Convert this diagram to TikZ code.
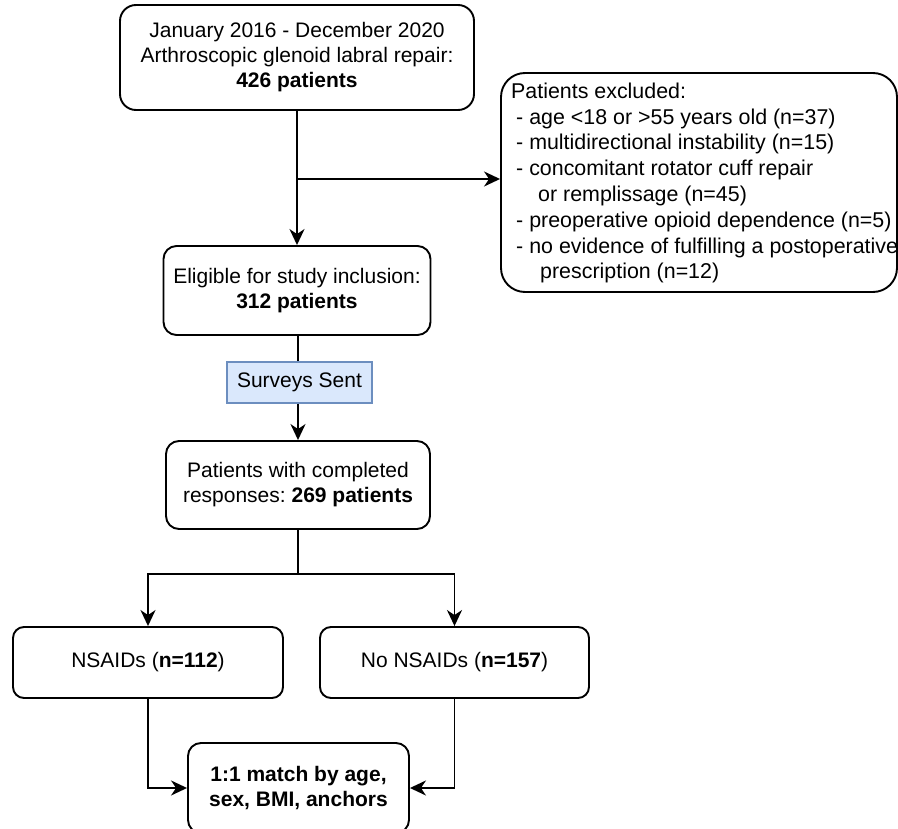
\documentclass[tikz,border=0pt]{standalone}
\usepackage{fontspec}
\setmainfont{Liberation Sans}
\usetikzlibrary{arrows.meta}
\definecolor{sfill}{HTML}{DAE8FC}
\definecolor{sdraw}{HTML}{6C8EBF}
\frenchspacing
\begin{document}
\begin{tikzpicture}[x=1pt,y=-1pt,
  font=\fontsize{21pt}{25pt}\selectfont\frenchspacing,
  box/.style={draw, line width=1.9pt, rounded corners=#1, inner sep=0pt, align=center},
  box/.default=14pt,
  line/.style={line width=1.9pt},
  arr/.style={line width=1.9pt, -{Stealth[length=16pt 0,width=15pt 0,inset=5pt 0]}}]
\path[use as bounding box, fill=white] (0,0) rectangle (898,829);

\node[box=16pt, minimum width=354pt, minimum height=105pt] (top) at (297,57.5)
  {January 2016 - December 2020\\Arthroscopic glenoid labral repair:\\\textbf{426 patients}};
\node[box=24pt, minimum width=396pt, minimum height=219pt] (excl) at (699,182.5) {};
\node[anchor=west, inner sep=0pt, align=left, font=\fontsize{21.4pt}{25.8pt}\selectfont\frenchspacing] (excltext) at (511,183)
  {Patients excluded:\\
   \hspace*{5pt}- age <18 or >55 years old (n=37)\\
   \hspace*{5pt}- multidirectional instability (n=15)\\
   \hspace*{5pt}- concomitant rotator cuff repair\\
   \hspace*{27pt}or remplissage (n=45)\\
   \hspace*{5pt}- preoperative opioid dependence (n=5)\\
   \hspace*{5pt}- no evidence of fulfilling a postoperative\\
   \hspace*{29pt}prescription (n=12)};
\node[box=13pt, minimum width=267pt, minimum height=89pt] (elig) at (297,290.5)
  {Eligible for study inclusion:\\\textbf{312 patients}};
\node[draw=sdraw, fill=sfill, line width=1.6pt, inner sep=0pt, minimum width=145pt, minimum height=41pt] (surv) at (299.5,382.5)
  {Surveys Sent};
\node[box=13pt, minimum width=264pt, minimum height=88pt] (resp) at (298,485)
  {Patients with completed\\responses: \textbf{269 patients}};
\node[box=11pt, minimum width=270pt, minimum height=71pt] (ns) at (148,662.5)
  {NSAIDs (\textbf{n=112})};
\node[box=11pt, minimum width=269pt, minimum height=71pt] (nons) at (454.5,662.5)
  {No NSAIDs (\textbf{n=157})};
\node[box=13pt, minimum width=221pt, minimum height=90pt] (match) at (298.5,788)
  {\textbf{1:1 match by age,}\\\textbf{sex, BMI, anchors}};

\coordinate (j1) at (297,179);
\coordinate (split) at (298,574);

\draw[arr] (top.south -| j1) -- (elig.north -| j1);
\draw[arr] (j1) -- (j1 -| excl.west);
\draw[line] (elig.south -| resp.north) -- (surv.north -| resp.north);
\draw[arr] (surv.south -| resp.north) -- (resp.north);
\draw[line] (resp.south) -- (split);
\draw[arr] (split) -| (ns.north);
\draw[arr] (split) -| (nons.north);
\draw[arr] (ns.south) |- (match.west);
\draw[arr] (nons.south) |- (match.east);
\end{tikzpicture}
\end{document}
